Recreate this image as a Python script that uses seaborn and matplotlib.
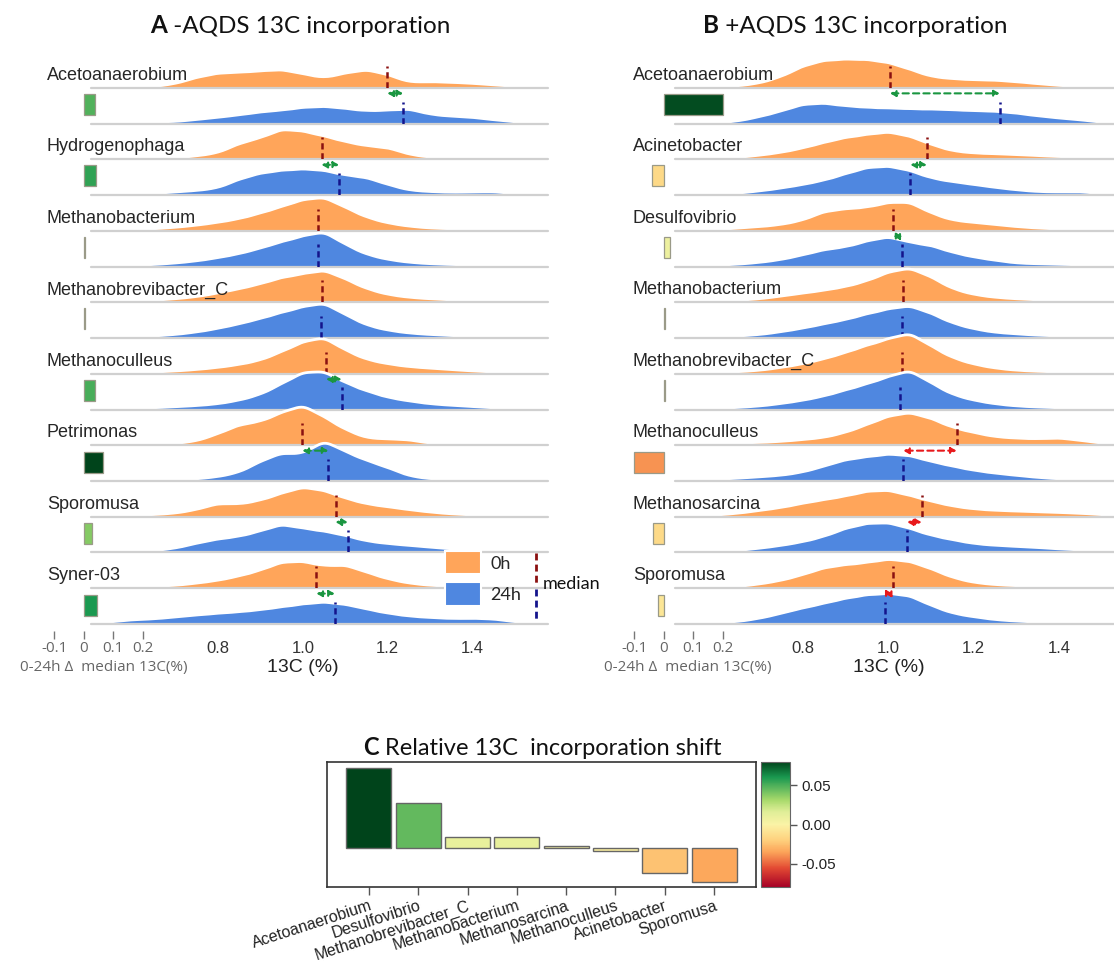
import numpy as np
import pandas as pd
import seaborn as sns
import matplotlib
matplotlib.use('Agg')
from matplotlib import pyplot as plt
from matplotlib.colors import LinearSegmentedColormap, Normalize
from matplotlib.patches import Patch
from matplotlib.lines import Line2D

# 13C grid (%) on which the ridge heights were read (heights in row units)
GRID = [0.50, 0.55, 0.60, 0.65, 0.70, 0.75, 0.80, 0.85, 0.90, 0.95, 1.00,
        1.05, 1.10, 1.15, 1.20, 1.25, 1.30, 1.35, 1.40, 1.45, 1.50, 1.55]

# ---- panel A (-AQDS)
A_TAXA = ['Acetoanaerobium', 'Hydrogenophaga', 'Methanobacterium', 'Methanobrevibacter_C',
          'Methanoculleus', 'Petrimonas', 'Sporomusa', 'Syner-03']
A_DENS_0H = [
    [0, 0.01, 0.02, 0.04, 0.12, 0.30, 0.42, 0.44, 0.48, 0.52, 0.40, 0.28, 0.42, 0.52, 0.38, 0.16, 0.18, 0.16, 0.13, 0.09, 0.04, 0.01],
    [0, 0.01, 0.01, 0.02, 0.04, 0.10, 0.18, 0.45, 0.60, 0.86, 0.80, 0.66, 0.50, 0.38, 0.34, 0.14, 0.06, 0.05, 0.06, 0.04, 0.02, 0],
    [0, 0.01, 0.03, 0.06, 0.10, 0.16, 0.24, 0.34, 0.50, 0.68, 0.88, 0.96, 0.66, 0.38, 0.22, 0.13, 0.08, 0.06, 0.04, 0.03, 0.01, 0],
    [0, 0.01, 0.03, 0.06, 0.10, 0.16, 0.26, 0.38, 0.52, 0.70, 0.80, 0.92, 0.66, 0.38, 0.22, 0.14, 0.10, 0.07, 0.05, 0.03, 0.02, 0],
    [0, 0.02, 0.03, 0.05, 0.08, 0.12, 0.18, 0.26, 0.38, 0.62, 0.90, 1.04, 0.66, 0.40, 0.28, 0.20, 0.16, 0.12, 0.08, 0.05, 0.02, 0],
    [0, 0, 0.01, 0.02, 0.05, 0.12, 0.32, 0.58, 0.66, 0.92, 1.14, 0.80, 0.44, 0.20, 0.18, 0.16, 0.05, 0.06, 0.06, 0.02, 0, 0],
    [0, 0.02, 0.04, 0.06, 0.10, 0.20, 0.38, 0.35, 0.46, 0.66, 0.84, 0.74, 0.52, 0.36, 0.28, 0.20, 0.13, 0.08, 0.05, 0.03, 0.01, 0],
    [0, 0.01, 0.03, 0.05, 0.08, 0.14, 0.22, 0.34, 0.50, 0.74, 0.76, 0.62, 0.66, 0.45, 0.26, 0.14, 0.08, 0.05, 0.03, 0.02, 0.01, 0],
]
A_DENS_24H = [
    [0, 0.02, 0.05, 0.05, 0.06, 0.12, 0.18, 0.25, 0.33, 0.38, 0.46, 0.49, 0.43, 0.36, 0.38, 0.42, 0.26, 0.21, 0.18, 0.11, 0.05, 0],
    [0, 0.01, 0.02, 0.05, 0.09, 0.13, 0.20, 0.45, 0.62, 0.70, 0.74, 0.70, 0.56, 0.50, 0.30, 0.14, 0.10, 0.08, 0.09, 0.10, 0.04, 0.01],
    [0, 0.01, 0.03, 0.06, 0.10, 0.16, 0.25, 0.36, 0.52, 0.70, 0.86, 1.00, 0.62, 0.34, 0.20, 0.12, 0.08, 0.06, 0.04, 0.03, 0.01, 0],
    [0, 0.01, 0.03, 0.06, 0.10, 0.17, 0.27, 0.40, 0.55, 0.72, 0.88, 1.00, 0.66, 0.36, 0.22, 0.14, 0.10, 0.07, 0.05, 0.03, 0.02, 0],
    [0, 0.01, 0.03, 0.05, 0.08, 0.11, 0.16, 0.26, 0.42, 0.72, 1.05, 1.08, 0.75, 0.52, 0.34, 0.24, 0.16, 0.12, 0.08, 0.05, 0.02, 0],
    [0, 0, 0.01, 0.02, 0.03, 0.06, 0.12, 0.24, 0.55, 0.80, 0.74, 1.16, 0.82, 0.58, 0.38, 0.14, 0.06, 0.04, 0.02, 0.01, 0, 0],
    [0, 0.01, 0.02, 0.05, 0.12, 0.26, 0.38, 0.45, 0.60, 0.80, 0.68, 0.60, 0.48, 0.32, 0.25, 0.20, 0.15, 0.10, 0.08, 0.06, 0.02, 0],
    [0.01, 0.06, 0.12, 0.14, 0.20, 0.25, 0.30, 0.34, 0.40, 0.48, 0.56, 0.62, 0.55, 0.42, 0.30, 0.22, 0.18, 0.15, 0.16, 0.14, 0.06, 0.01],
]
A_MED_0H = [1.199, 1.044, 1.036, 1.045, 1.055, 0.999, 1.077, 1.032]
A_MED_24H = [1.236, 1.085, 1.035, 1.043, 1.091, 1.060, 1.106, 1.075]
A_ARROW = ['g', 'g', None, None, 'g', 'g', 'g', 'g']
A_DELTA = [0.037, 0.042, 0.002, 0.002, 0.038, 0.063, 0.029, 0.045]

# ---- panel B (+AQDS)
B_TAXA = ['Acetoanaerobium', 'Acinetobacter', 'Desulfovibrio', 'Methanobacterium',
          'Methanobrevibacter_C', 'Methanoculleus', 'Methanosarcina', 'Sporomusa']
B_DENS_0H = [
    [0, 0.01, 0.03, 0.06, 0.14, 0.32, 0.62, 0.78, 0.81, 0.80, 0.72, 0.53, 0.32, 0.26, 0.23, 0.22, 0.18, 0.12, 0.07, 0.04, 0.02, 0.01],
    [0, 0.01, 0.03, 0.06, 0.12, 0.20, 0.32, 0.48, 0.62, 0.70, 0.78, 0.66, 0.42, 0.24, 0.18, 0.16, 0.14, 0.11, 0.08, 0.06, 0.04, 0.02],
    [0, 0.01, 0.04, 0.08, 0.12, 0.18, 0.30, 0.55, 0.62, 0.66, 0.80, 0.82, 0.50, 0.30, 0.24, 0.18, 0.12, 0.08, 0.05, 0.04, 0.03, 0.01],
    [0, 0.01, 0.03, 0.06, 0.10, 0.18, 0.26, 0.34, 0.44, 0.60, 0.85, 0.98, 0.72, 0.38, 0.22, 0.14, 0.10, 0.07, 0.05, 0.03, 0.02, 0.01],
    [0, 0.01, 0.03, 0.06, 0.10, 0.18, 0.28, 0.42, 0.60, 0.80, 0.98, 1.16, 0.78, 0.45, 0.27, 0.16, 0.10, 0.07, 0.05, 0.03, 0.02, 0.01],
    [0, 0.02, 0.04, 0.06, 0.08, 0.11, 0.16, 0.22, 0.36, 0.58, 0.82, 0.93, 0.76, 0.50, 0.36, 0.24, 0.20, 0.18, 0.21, 0.14, 0.06, 0.01],
    [0, 0.02, 0.05, 0.10, 0.18, 0.26, 0.38, 0.48, 0.58, 0.72, 0.75, 0.60, 0.44, 0.30, 0.22, 0.18, 0.16, 0.14, 0.12, 0.10, 0.06, 0.02],
    [0, 0.01, 0.02, 0.05, 0.12, 0.22, 0.38, 0.58, 0.66, 0.72, 0.82, 0.76, 0.55, 0.30, 0.16, 0.10, 0.07, 0.05, 0.04, 0.05, 0.03, 0.01],
]
B_DENS_24H = [
    [0, 0, 0.02, 0.08, 0.20, 0.36, 0.55, 0.58, 0.50, 0.46, 0.44, 0.42, 0.41, 0.39, 0.37, 0.35, 0.30, 0.22, 0.16, 0.11, 0.04, 0],
    [0, 0, 0.02, 0.06, 0.12, 0.20, 0.30, 0.42, 0.60, 0.78, 0.82, 0.70, 0.48, 0.38, 0.30, 0.22, 0.15, 0.10, 0.09, 0.10, 0.04, 0.01],
    [0, 0.01, 0.04, 0.07, 0.12, 0.20, 0.33, 0.48, 0.55, 0.72, 0.85, 0.68, 0.60, 0.40, 0.27, 0.18, 0.10, 0.08, 0.07, 0.05, 0.03, 0.01],
    [0, 0.01, 0.03, 0.06, 0.10, 0.18, 0.28, 0.40, 0.52, 0.68, 0.82, 0.92, 0.70, 0.42, 0.26, 0.16, 0.12, 0.08, 0.06, 0.04, 0.02, 0.01],
    [0, 0.01, 0.03, 0.06, 0.10, 0.17, 0.26, 0.38, 0.55, 0.72, 0.92, 1.12, 0.75, 0.42, 0.26, 0.16, 0.10, 0.07, 0.05, 0.03, 0.02, 0.01],
    [0.01, 0.03, 0.05, 0.08, 0.12, 0.16, 0.25, 0.42, 0.60, 0.68, 0.76, 0.72, 0.55, 0.42, 0.30, 0.22, 0.16, 0.10, 0.06, 0.04, 0.02, 0.01],
    [0, 0.01, 0.03, 0.06, 0.12, 0.20, 0.30, 0.45, 0.68, 0.82, 0.84, 0.68, 0.48, 0.36, 0.25, 0.20, 0.17, 0.14, 0.10, 0.07, 0.04, 0.01],
    [0, 0.01, 0.03, 0.07, 0.16, 0.30, 0.45, 0.58, 0.72, 0.82, 0.86, 0.80, 0.52, 0.30, 0.20, 0.12, 0.08, 0.05, 0.04, 0.03, 0.02, 0.01],
]
B_MED_0H = [1.004, 1.090, 1.012, 1.035, 1.031, 1.160, 1.078, 1.010]
B_MED_24H = [1.261, 1.052, 1.033, 1.033, 1.027, 1.035, 1.044, 0.992]
B_ARROW = ['g', 'g', 'g', None, None, 'r', 'r', 'r']
B_DELTA = [0.200, -0.040, 0.022, 0.002, 0.002, -0.100, -0.037, -0.020]

# ---- panel C
C_TAXA = ['Acetoanaerobium', 'Desulfovibrio', 'Methanobrevibacter_C', 'Methanobacterium',
          'Methanosarcina', 'Methanoculleus', 'Acinetobacter', 'Sporomusa']
C_SHIFT = [0.080, 0.045, 0.011, 0.011, 0.002, -0.003, -0.025, -0.034]

XTICKS = [0.8, 1.0, 1.2, 1.4]
DTICKS = [-0.1, 0, 0.1, 0.2]

ORANGE, BLUE = '#ffa55a', '#4f87e0'
MED_0H, MED_24H = '#8b1010', '#14148c'
ARROW_COL = {'g': '#1a9641', 'r': '#e8191c'}
CMAP = LinearSegmentedColormap.from_list('shift', [
    (0.0, '#a50026'), (0.15, '#e34a33'), (0.28, '#fca55a'), (0.38, '#fed27f'),
    (0.5, '#fbf3a6'), (0.6, '#e0ee98'), (0.7, '#a6d96a'), (0.78, '#66bb5f'),
    (0.88, '#1a9850'), (1.0, '#00441b')])

sns.set_theme(style='white', rc={'axes.facecolor': (0, 0, 0, 0)})
plt.rcParams['font.family'] = ['Liberation Sans', 'DejaVu Sans']
plt.rcParams['axes.unicode_minus'] = False

W, H = 1114, 966
BASE0, ROW = 88, 35.73
RIDGE_H = 1.5 * ROW
KERNEL_SD = 0.026

fig = plt.figure(figsize=(W / 100, H / 100), dpi=100)


def fig_box(left, top, width, height):
    return [left / W, 1 - (top + height) / H, width / W, height / H]


def bandwidth(dens):
    # same kernel width for every ridge, whatever its spread
    mean = np.average(GRID, weights=dens)
    sd = np.sqrt(np.average((np.array(GRID) - mean) ** 2, weights=dens))
    return KERNEL_SD / sd


def ridges(taxa, dens0, dens24, med0, med24, arrows, left, width, xmax, label_x):
    step = GRID[1] - GRID[0]
    for k, name in enumerate(taxa):
        pairs = [(dens0[k], med0[k], ORANGE, MED_0H), (dens24[k], med24[k], BLUE, MED_24H)]
        for t, (dens, med, fill, mcol) in enumerate(pairs):
            row = 2 * k + t
            base = BASE0 + ROW * row
            ax = fig.add_axes(fig_box(left, base - RIDGE_H, width, RIDGE_H))
            bw = bandwidth(dens)
            sns.kdeplot(x=GRID, weights=dens, bw_method=bw, cut=0, fill=True, color=fill,
                        alpha=1, linewidth=0, ax=ax)
            sns.kdeplot(x=GRID, weights=dens, bw_method=bw, cut=0, color='w', linewidth=2, ax=ax)
            ax.axhline(0, color='#d0d0d0', lw=1.6, clip_on=False)
            ax.set_xlim(0.5, xmax)
            ax.set_ylim(0, 1.5 / (sum(dens) * step))
            ax.axvline(med, ymax=0.62 / 1.5, color=mcol, lw=1.8, ls=(0, (2.5, 1.5)))
            if t == 0:
                ax.annotate(name, xy=(0, 0), xycoords='axes fraction', xytext=(label_x - left, 8),
                            textcoords='offset pixels', fontsize=13, va='baseline', ha='left',
                            annotation_clip=False)
            elif arrows[k]:
                ax.annotate('', xy=(med24[k], 0.85 / 1.5), xytext=(med0[k], 0.85 / 1.5),
                            xycoords=('data', 'axes fraction'),
                            arrowprops=dict(arrowstyle='<|-|>,head_length=0.32,head_width=0.18',
                                            mutation_scale=10, color=ARROW_COL[arrows[k]],
                                            lw=1.5, ls=(0, (3, 2)), shrinkA=0, shrinkB=0))
            if row == 15:
                sns.despine(ax=ax, left=True, bottom=True)
                ax.set_yticks([])
                ax.set_ylabel('')
                ax.set_xticks(XTICKS)
                ax.set_xticklabels([f'{v:.1f}' for v in XTICKS])
                ax.tick_params(axis='x', length=0, pad=12, labelsize=12, labelcolor='#333')
                ax.set_xlabel('')
                ax.text(1.0, -44 / RIDGE_H, '13C (%)', transform=ax.get_xaxis_transform(),
                        ha='center', va='center', fontsize=14, color='#222')
            else:
                ax.set_axis_off()


def delta_bars(taxa, deltas, norm, mini_left, label_right):
    dax = fig.add_axes(fig_box(mini_left, 60, 120, 571))
    df = pd.DataFrame({'taxon': taxa, 'delta': deltas})
    sns.barplot(df, x='delta', y='taxon', hue='taxon', palette=[CMAP(norm(v)) for v in deltas],
                saturation=1, legend=False, width=0.294, edgecolor='#9a9a88', linewidth=0.9, ax=dax)
    dax.set_xlim(-0.149, 0.258)
    dax.set_ylim(7.36, -0.616)
    for s in dax.spines.values():
        s.set_visible(False)
    dax.set_yticks([])
    dax.set_ylabel('')
    dax.set_xlabel('')
    dax.set_xticks(DTICKS)
    dax.set_xticklabels(['-0.1', '0', '0.1', '0.2'], family='Open Sans')
    dax.tick_params(axis='x', bottom=True, length=6, width=1, color='#777', labelsize=11,
                    labelcolor='#666', pad=1)
    dax.text((label_right - mini_left) / 120, -37 / 571, '0-24h \u0394  median 13C(%)',
             transform=dax.transAxes, ha='right', va='center', fontsize=11, color='#666',
             family='Open Sans')
    return dax


def title(x_px, base_px, letter, rest, ax, size=17.5):
    t = fig.text(x_px / W, 1 - base_px / H, letter, fontsize=size, fontweight='bold',
                 family='Lato', va='baseline', color='#111')
    ax.annotate(rest, xy=(1, 0), xycoords=t, va='bottom', ha='left', fontsize=size,
                family='Lato', color='#111', annotation_clip=False)


ridges(A_TAXA, A_DENS_0H, A_DENS_24H, A_MED_0H, A_MED_24H, A_ARROW, 90.5, 457, 1.576, 47)
ridges(B_TAXA, B_DENS_0H, B_DENS_24H, B_MED_0H, B_MED_24H, B_ARROW, 675, 439, 1.529, 633)

dax_a = delta_bars(A_TAXA, A_DELTA, Normalize(-0.06, 0.06), 40, 188)
dax_b = delta_bars(B_TAXA, B_DELTA, Normalize(-0.205, 0.205), 620, 772)

title(150, 33, 'A', ' -AQDS 13C incorporation', dax_a)
title(703, 33, 'B', ' +AQDS 13C incorporation', dax_b)

# legend for panel A
fig.legend(handles=[Patch(facecolor=ORANGE, edgecolor='white', lw=1.5),
                    Patch(facecolor=BLUE, edgecolor='white', lw=1.5)],
           labels=['0h', '24h'], loc='upper left', bbox_to_anchor=(445 / W, 1 - 551 / H),
           frameon=False, handlelength=2.0, handleheight=1.6, labelspacing=0.45,
           handletextpad=0.5, borderpad=0, borderaxespad=0, prop={'family': 'Lato', 'size': 13})
fig.add_artist(Line2D([536 / W] * 2, [1 - 553 / H, 1 - 585 / H], transform=fig.transFigure,
                      color=MED_0H, lw=2, ls=(0, (2.5, 1.5))))
fig.add_artist(Line2D([536 / W] * 2, [1 - 589 / H, 1 - 620 / H], transform=fig.transFigure,
                      color=MED_24H, lw=2, ls=(0, (2.5, 1.5))))
fig.text(543 / W, 1 - 584 / H, 'median', fontsize=13, family='Lato', va='center', color='#111')

# panel C
C_NORM = Normalize(-0.08, 0.08)
axc = fig.add_axes(fig_box(327, 762, 429, 125))
dfc = pd.DataFrame({'taxon': C_TAXA, 'shift': C_SHIFT})
sns.barplot(dfc, x='taxon', y='shift', hue='taxon', palette=[CMAP(C_NORM(v)) for v in C_SHIFT],
            saturation=1, legend=False, width=0.91, edgecolor='#666', linewidth=1, ax=axc)
axc.set_xlim(-0.85, 7.85)
axc.set_ylim(-0.039, 0.086)
axc.set_yticks([])
axc.set_xlabel('')
axc.set_ylabel('')
for s in axc.spines.values():
    s.set_visible(True)
    s.set_color('#333')
    s.set_linewidth(1.2)
axc.tick_params(axis='x', bottom=True, length=6, width=1, color='#555', labelsize=11.5,
                labelcolor='#222', pad=2)
for lbl in axc.get_xticklabels():
    lbl.set(rotation=18, ha='right', rotation_mode='anchor')
title(363, 755, 'C', ' Relative 13C  incorporation shift', axc, size=17)

cbax = fig.add_axes(fig_box(761, 762, 29, 125))
sm = plt.cm.ScalarMappable(norm=C_NORM, cmap=CMAP)
cb = fig.colorbar(sm, cax=cbax, ticks=[-0.05, 0, 0.05], format='%.2f')
cb.outline.set_edgecolor('#666')
cb.outline.set_linewidth(0.8)
cbax.tick_params(right=True, length=5, width=1, color='#555', labelsize=11, labelcolor='#222', pad=3)

fig.savefig('out.png', dpi=100)
